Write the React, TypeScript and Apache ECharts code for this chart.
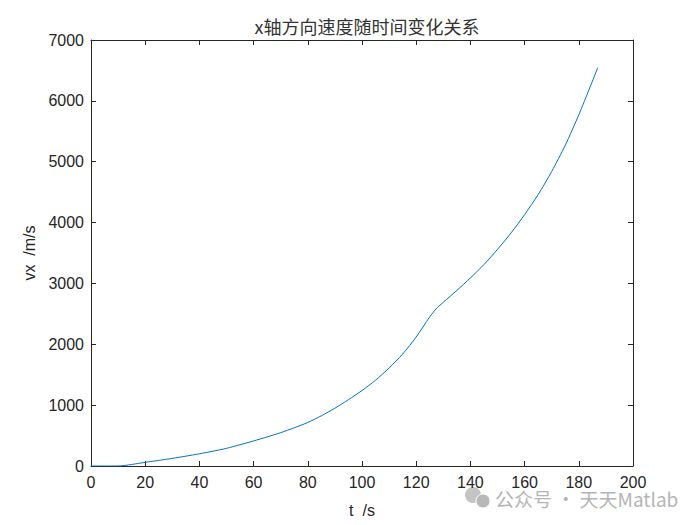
import React, { useEffect, useRef } from "react";
import * as echarts from "echarts";

const timeS: number[] = [0, 5, 10, 15, 20, 25, 30, 35, 40, 45, 50, 55, 60, 65, 70, 75, 80, 85, 90, 95, 100, 105, 110, 115, 120, 125, 127.6, 130, 135, 140, 145, 150, 155, 160, 165, 170, 175, 180, 184, 187];
const vxMs: number[] = [0, 0, 0, 25, 60, 92, 125, 162, 200, 243, 290, 350, 412, 478, 548, 628, 715, 825, 950, 1090, 1240, 1410, 1610, 1840, 2120, 2450, 2595, 2690, 2885, 3090, 3310, 3560, 3830, 4130, 4460, 4840, 5270, 5770, 6210, 6545];
const xTicks = { min: 0, max: 200, interval: 20 };
const yTicks = { min: 0, max: 7000, interval: 1000 };

const titleText = "x轴方向速度随时间变化关系";
const xName = "t  /s";
const yName = "vx  /m/s";
const watermark = "公众号 · 天天Matlab";

export default function App() {
  const ref = useRef<HTMLDivElement>(null);
  useEffect(() => {
    if (!ref.current) return;
    const chart = echarts.init(ref.current, undefined, { renderer: "svg" });
    const axisColor = "#262626";
    const font = "'Liberation Sans', Arial, sans-serif";
    const baseX = {
      type: "value" as const,
      min: xTicks.min,
      max: xTicks.max,
      interval: xTicks.interval,
      axisLine: { show: true, onZero: false, lineStyle: { color: axisColor, width: 1 } },
      axisTick: { show: true, inside: true, length: 5, lineStyle: { color: axisColor } },
      splitLine: { show: false },
    };
    const baseY = {
      type: "value" as const,
      min: yTicks.min,
      max: yTicks.max,
      interval: yTicks.interval,
      axisLine: { show: true, onZero: false, lineStyle: { color: axisColor, width: 1 } },
      axisTick: { show: true, inside: true, length: 5, lineStyle: { color: axisColor } },
      splitLine: { show: false },
    };
    chart.setOption({
      animation: false,
      backgroundColor: "#ffffff",
      title: {
        text: titleText,
        left: 362,
        top: 12,
        textAlign: "center",
        textStyle: { fontSize: 18, fontWeight: "normal", color: "#333333", fontFamily: "'Noto Sans CJK SC', sans-serif" },
      },
      grid: { left: 91, right: 67, top: 40, bottom: 59, containLabel: false },
      xAxis: [
        {
          ...baseX,
          position: "bottom",
          name: xName,
          nameLocation: "middle",
          nameGap: 36,
          nameTextStyle: { fontSize: 16, color: axisColor, fontFamily: font },
          axisLabel: { show: true, fontSize: 16, color: axisColor, fontFamily: font, margin: 8 },
        },
        { ...baseX, position: "top", axisLabel: { show: false } },
      ],
      yAxis: [
        {
          ...baseY,
          position: "left",
          name: yName,
          nameLocation: "middle",
          nameGap: 49,
          nameTextStyle: { fontSize: 16, color: axisColor, fontFamily: font },
          axisLabel: { show: true, fontSize: 16, color: axisColor, fontFamily: font, margin: 7, formatter: (v: number) => String(v) },
        },
        { ...baseY, position: "right", axisLabel: { show: false } },
      ],
      series: [
        {
          type: "line",
          xAxisIndex: 0,
          yAxisIndex: 0,
          data: timeS.map((t, i) => [t, vxMs[i]]),
          showSymbol: false,
          smooth: 0.25,
          lineStyle: { color: "#0072BD", width: 1 },
        },
      ],
      graphic: [
        { type: "circle", shape: { cx: 473, cy: 495, r: 8 }, style: { fill: "#c4c4c4" } },
        { type: "circle", shape: { cx: 483, cy: 501, r: 7 }, style: { fill: "#b8b8b8", stroke: "#ffffff", lineWidth: 1 } },
        {
          type: "text",
          x: 495,
          y: 498,
          style: { text: watermark, fontSize: 19, fill: "#b5b5b5", verticalAlign: "middle", fontFamily: "'Noto Sans CJK SC', sans-serif" },
        },
      ],
    });
    return () => chart.dispose();
  }, []);
  return <div ref={ref} style={{ width: 700, height: 525, position: "absolute", left: 0, top: 0 }} />;
}
